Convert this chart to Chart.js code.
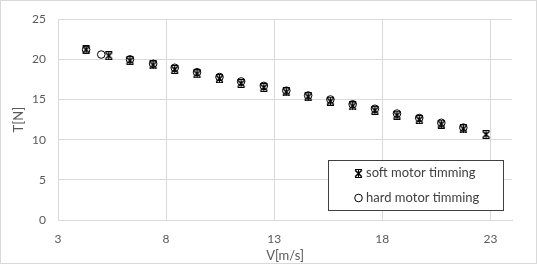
<!DOCTYPE html>
<html>
<head>
<meta charset="utf-8">
<script src="https://cdn.jsdelivr.net/npm/chart.js@4/dist/chart.umd.min.js"></script>
<style>
  html, body { margin: 0; padding: 0; background: #fff; }
  #wrap { width: 537px; height: 264px; }
</style>
</head>
<body>
<div id="wrap"><canvas id="thrustChart" width="537" height="264"></canvas></div>
<script>
// soft motor timming (asterisk markers)
const velSoft = [4.3, 5.35, 6.33, 7.4, 8.4, 9.43, 10.47, 11.47, 12.52, 13.56, 14.57, 15.6, 16.63, 17.66, 18.68, 19.71, 20.73, 21.75, 22.8];
const thrustSoft = [21.2, 20.45, 19.85, 19.3, 18.75, 18.2, 17.6, 17.0, 16.5, 15.95, 15.35, 14.8, 14.2, 13.65, 13.05, 12.5, 11.95, 11.35, 10.65];

// hard motor timming (circle markers)
const velHard = [4.3, 5.0, 6.33, 7.4, 8.4, 9.43, 10.47, 11.47, 12.52, 13.56, 14.57, 15.6, 16.63, 17.66, 18.68, 19.71, 20.73, 21.75];
const thrustHard = [21.2, 20.6, 20.0, 19.45, 18.95, 18.4, 17.8, 17.25, 16.7, 16.1, 15.5, 15.0, 14.4, 13.85, 13.25, 12.7, 12.1, 11.5];

const xTicks = [3, 8, 13, 18, 23];
const seriesNames = ["soft motor timming", "hard motor timming"];

const toPoints = (xs, ys) => xs.map((x, i) => ({ x: x, y: ys[i] }));

// excel style asterisk marker: X with short caps top and bottom
function makeAsterisk() {
  const c = document.createElement("canvas");
  c.width = 9;
  c.height = 9;
  const g = c.getContext("2d");
  g.strokeStyle = "#000";
  g.lineWidth = 1.6;
  g.beginPath();
  g.moveTo(1.2, 1.2); g.lineTo(7.8, 7.8);
  g.moveTo(7.8, 1.2); g.lineTo(1.2, 7.8);
  g.stroke();
  g.lineWidth = 1;
  g.beginPath();
  g.moveTo(4.5, 1); g.lineTo(4.5, 8);
  g.moveTo(1, 0.5); g.lineTo(8, 0.5);
  g.moveTo(1, 8.5); g.lineTo(8, 8.5);
  g.stroke();
  return c;
}
const asterisk = makeAsterisk();

const textGray = "#595959";
const gridGray = "#d9d9d9";

const frame = {
  id: "frame",
  beforeDraw(chart) {
    const ctx = chart.ctx;
    ctx.save();
    ctx.fillStyle = "#fff";
    ctx.fillRect(0, 0, chart.width, chart.height);
    ctx.strokeStyle = gridGray;
    ctx.lineWidth = 1;
    ctx.strokeRect(0.5, 0.5, chart.width - 1, chart.height - 1);
    ctx.restore();
  }
};

const boxLegend = {
  id: "boxLegend",
  afterDraw(chart) {
    const ctx = chart.ctx;
    ctx.save();
    ctx.fillStyle = "#fff";
    ctx.fillRect(328, 160, 176, 51);
    ctx.strokeStyle = "#404040";
    ctx.lineWidth = 1;
    ctx.strokeRect(328.5, 160.5, 175, 50);

    ctx.drawImage(asterisk, 354, 169);
    ctx.beginPath();
    ctx.arc(358.5, 198, 3.8, 0, Math.PI * 2);
    ctx.fillStyle = "#fff";
    ctx.fill();
    ctx.strokeStyle = "#000";
    ctx.lineWidth = 1;
    ctx.stroke();

    ctx.fillStyle = "#404040";
    ctx.font = "13px Lato";
    ctx.textBaseline = "middle";
    ctx.fillText(seriesNames[0], 366, 173);
    ctx.fillText(seriesNames[1], 366, 198);
    ctx.restore();
  }
};

new Chart(document.getElementById("thrustChart"), {
  type: "scatter",
  data: {
    datasets: [
      {
        label: seriesNames[0],
        data: toPoints(velSoft, thrustSoft),
        pointStyle: asterisk,
        pointRadius: 4,
      },
      {
        label: seriesNames[1],
        data: toPoints(velHard, thrustHard),
        pointStyle: "circle",
        pointRadius: 3.8,
        borderColor: "#000",
        borderWidth: 1,
        backgroundColor: "rgba(255,255,255,0)",
      }
    ]
  },
  options: {
    responsive: false,
    animation: false,
    devicePixelRatio: 1,
    layout: { padding: { top: 17, right: 25, left: 0, bottom: 0 } },
    plugins: {
      legend: { display: false },
      tooltip: { enabled: false }
    },
    scales: {
      x: {
        type: "linear",
        min: 3,
        max: 24,
        afterBuildTicks: (scale) => { scale.ticks = xTicks.map(v => ({ value: v })); },
        afterFit: (scale) => { scale.height = 44; },
        grid: { color: gridGray, drawTicks: false },
        border: { color: gridGray },
        ticks: { color: textGray, font: { family: "Lato", size: 12 }, padding: 12 },
        title: {
          display: true,
          text: "V[m/s]",
          color: textGray,
          font: { family: "Lato", size: 13 },
          padding: { top: 0, bottom: 0 }
        }
      },
      y: {
        min: 0,
        max: 25,
        afterFit: (scale) => { scale.width = 58; },
        grid: { color: gridGray, drawTicks: false },
        border: { color: gridGray },
        ticks: { stepSize: 5, color: textGray, font: { family: "Lato", size: 12 }, padding: 12 },
        title: {
          display: true,
          text: "T[N]",
          color: textGray,
          font: { family: "Lato", size: 13 },
          padding: { top: 11, bottom: 0 }
        }
      }
    }
  },
  plugins: [frame, boxLegend]
});
</script>
</body>
</html>
